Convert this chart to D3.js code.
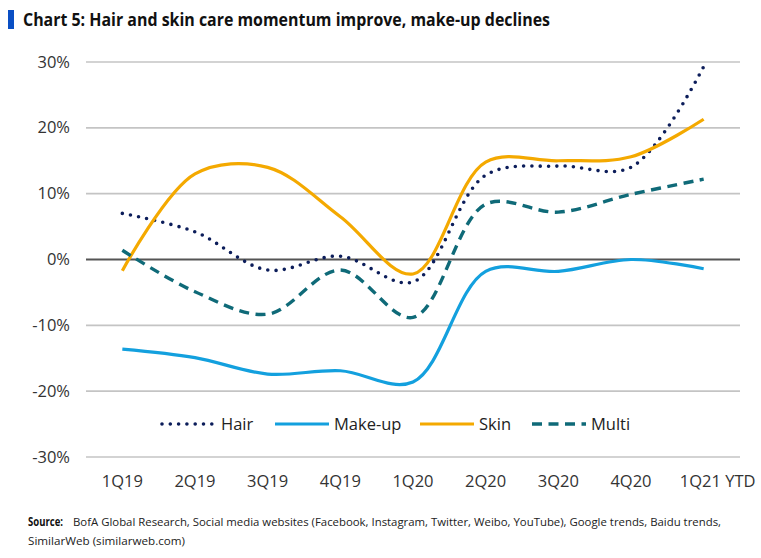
<!DOCTYPE html>
<html>
<head>
<meta charset="utf-8">
<script src="https://cdn.jsdelivr.net/npm/d3@7"></script>
<style>
  body { margin: 0; background: #fff; }
  svg { display: block; font-family: "Open Sans", sans-serif; }
</style>
</head>
<body>
<div id="chart"></div>
<script>
const quarters = ["1Q19", "2Q19", "3Q19", "4Q19", "1Q20", "2Q20", "3Q20", "4Q20", "1Q21 YTD"];
const hair   = [7.0, 4.2, -1.6, 0.5, -3.4, 12.8, 14.2, 14.0, 29.3];
const makeup = [-13.6, -14.9, -17.4, -16.9, -18.6, -1.8, -1.8, 0.0, -1.4];
const skin   = [-1.7, 13.0, 14.0, 6.5, -2.2, 14.8, 15.0, 15.6, 21.3];
const multi  = [1.4, -4.9, -8.3, -1.6, -8.8, 8.4, 7.2, 9.9, 12.2];
const yTicks = [30, 20, 10, 0, -10, -20, -30];

const series = [
  { name: "Hair", values: hair, color: "#0c1d5a", dash: "0,8.3", cap: "round", width: 3.6 },
  { name: "Make-up", values: makeup, color: "#13a0de", dash: null, cap: "butt", width: 3.2 },
  { name: "Skin", values: skin, color: "#f4a900", dash: null, cap: "butt", width: 3.2 },
  { name: "Multi", values: multi, color: "#0f6a78", dash: "10,6.5", cap: "butt", width: 3.4 }
];

const svg = d3.select("#chart").append("svg")
  .attr("width", 761)
  .attr("height", 558);

// title
svg.append("rect").attr("x", 8).attr("y", 10).attr("width", 6).attr("height", 19).attr("fill", "#0a4fc4");
svg.append("text")
  .attr("x", 23).attr("y", 26)
  .attr("font-size", 18).attr("font-weight", "bold").attr("fill", "#111")
  .attr("textLength", 527).attr("lengthAdjust", "spacingAndGlyphs")
  .text("Chart 5: Hair and skin care momentum improve, make-up declines");

const margin = { left: 86, right: 21 };
const width = 761 - margin.left - margin.right;

const x = d3.scalePoint().domain(quarters).range([0, width]).padding(0.5);
const y = d3.scaleLinear().domain([-30, 30]).range([457, 62]);

const g = svg.append("g").attr("transform", `translate(${margin.left},0)`);

// gridlines
g.selectAll(".grid")
  .data(yTicks)
  .enter().append("line")
  .attr("x1", 0).attr("x2", width)
  .attr("y1", d => y(d)).attr("y2", d => y(d))
  .attr("stroke", d => d === 0 ? "#555" : "#c4c4c4")
  .attr("stroke-width", d => d === 0 ? 2 : 1.6);

// y labels
svg.selectAll(".ylab")
  .data(yTicks)
  .enter().append("text")
  .attr("x", 70).attr("y", d => y(d) + 5.5)
  .attr("text-anchor", "end")
  .attr("font-size", 16.5).attr("fill", "#333")
  .text(d => d + "%");

// x labels
g.selectAll(".xlab")
  .data(quarters)
  .enter().append("text")
  .attr("x", d => x(d) + (d === "1Q21 YTD" ? 14 : 0))
  .attr("y", 487)
  .attr("text-anchor", "middle")
  .attr("font-size", 16.5).attr("fill", "#333")
  .text(d => d);

const line = d3.line()
  .x((d, i) => x(quarters[i]))
  .y(d => y(d))
  .curve(d3.curveCatmullRom.alpha(0.5));

g.selectAll(".series")
  .data(series)
  .enter().append("path")
  .attr("d", d => line(d.values))
  .attr("fill", "none")
  .attr("stroke", d => d.color)
  .attr("stroke-width", d => d.width)
  .attr("stroke-linecap", d => d.cap)
  .attr("stroke-dasharray", d => d.dash);

// legend
const legendX = [160, 273, 418, 530];
const leg = svg.selectAll(".legend")
  .data(series)
  .enter().append("g")
  .attr("transform", (d, i) => `translate(${legendX[i]},424)`);
leg.append("line")
  .attr("x1", 2).attr("x2", 56)
  .attr("stroke", d => d.color)
  .attr("stroke-width", d => d.width)
  .attr("stroke-linecap", d => d.cap)
  .attr("stroke-dasharray", d => d.dash);
leg.append("text")
  .attr("x", 61).attr("y", 6)
  .attr("font-size", 16.5).attr("fill", "#222")
  .text(d => d.name);

// source
svg.append("text").attr("x", 28).attr("y", 526).attr("font-size", 12).attr("font-weight", "bold").attr("fill", "#111")
  .attr("textLength", 35).attr("lengthAdjust", "spacingAndGlyphs")
  .text("Source:");
svg.append("text").attr("x", 73).attr("y", 526).attr("font-size", 11.5).attr("fill", "#222")
  .attr("textLength", 648).attr("lengthAdjust", "spacingAndGlyphs")
  .text("BofA Global Research, Social  media websites (Facebook,  Instagram, Twitter, Weibo, YouTube),  Google trends,  Baidu trends,");
svg.append("text").attr("x", 28).attr("y", 545).attr("font-size", 11.5).attr("fill", "#222")
  .attr("textLength", 157).attr("lengthAdjust", "spacingAndGlyphs")
  .text("SimilarWeb (similarweb.com)");
</script>
</body>
</html>
